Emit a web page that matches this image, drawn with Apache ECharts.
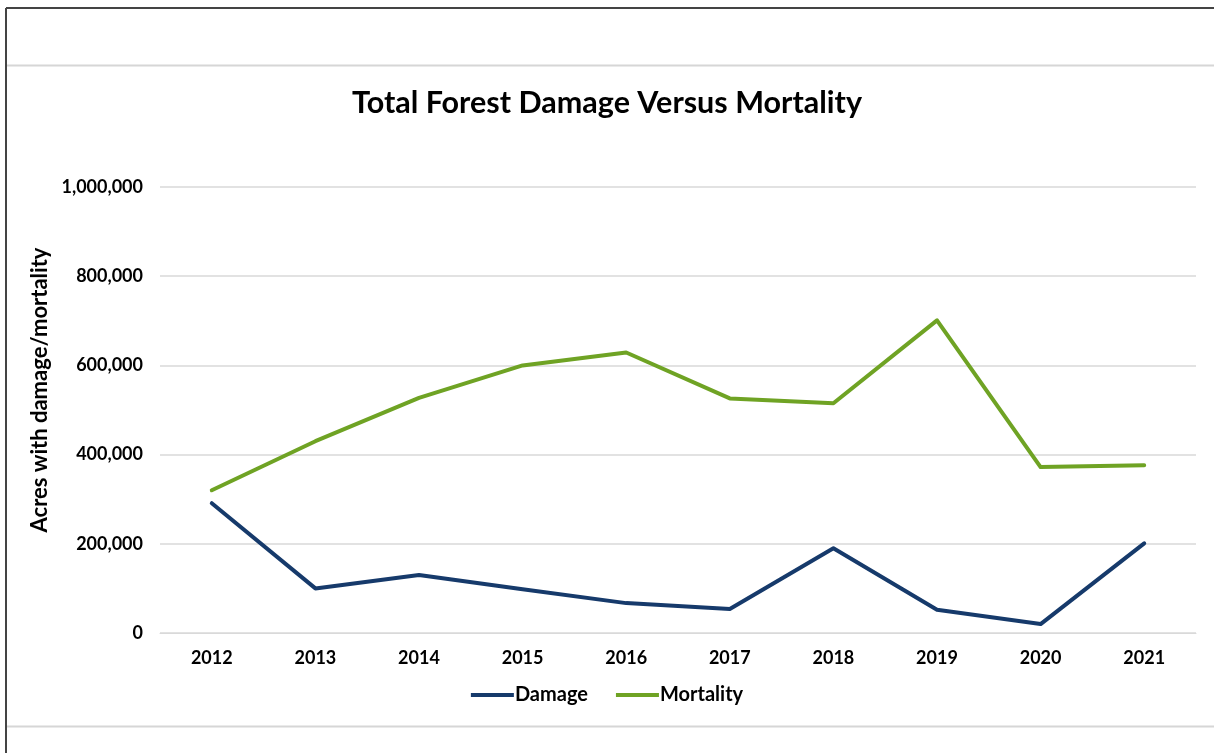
<!DOCTYPE html>
<html>
<head>
<meta charset="utf-8">
<title>Total Forest Damage Versus Mortality</title>
<script src="https://cdn.jsdelivr.net/npm/echarts@6/dist/echarts.min.js"></script>
<style>
  html, body { margin: 0; padding: 0; background: #fff; }
  #chart { width: 1214px; height: 753px; }
</style>
</head>
<body>
<div id="chart"></div>
<script>
// values
const years = ['2012', '2013', '2014', '2015', '2016', '2017', '2018', '2019', '2020', '2021'];
const damage = [291000, 100000, 130000, 98000, 67000, 54000, 190000, 52000, 20000, 201000];
const mortality = [320000, 430000, 527000, 600000, 629000, 526000, 515000, 701000, 372000, 376000];
const yTicks = [0, 200000, 400000, 600000, 800000, 1000000];

const FONT = 'Lato, "Noto Sans", sans-serif';

const chart = echarts.init(document.getElementById('chart'));

chart.setOption({
  backgroundColor: '#fff',
  animation: false,
  // frame round the chart area, like the pasted office chart
  graphic: [
    { type: 'line', shape: { x1: 6, y1: 8, x2: 1214, y2: 8 }, style: { stroke: '#444', lineWidth: 2 } },
    { type: 'line', shape: { x1: 6, y1: 8, x2: 6, y2: 753 }, style: { stroke: '#444', lineWidth: 2 } },
    { type: 'line', shape: { x1: 7, y1: 65.5, x2: 1214, y2: 65.5 }, style: { stroke: '#d6d6d6', lineWidth: 2 } },
    { type: 'line', shape: { x1: 7, y1: 726.5, x2: 1214, y2: 726.5 }, style: { stroke: '#d6d6d6', lineWidth: 2 } }
  ],
  title: {
    text: 'Total Forest Damage Versus Mortality',
    left: 'center',
    top: 83,
    textStyle: { fontFamily: FONT, fontSize: 30.5, fontWeight: 'bold', color: '#000' }
  },
  legend: {
    data: ['Damage', 'Mortality'],
    bottom: 43,
    left: 'center',
    itemWidth: 43,
    itemHeight: 4,
    itemGap: 28,
    icon: 'rect',
    textStyle: { fontFamily: FONT, fontSize: 20, fontWeight: 'bold', color: '#000', padding: [0, 0, 0, -4] }
  },
  grid: { left: 160, right: 18, top: 187, bottom: 120 },
  xAxis: {
    type: 'category',
    data: years,
    boundaryGap: true,
    axisLine: { lineStyle: { color: '#d9d9d9', width: 1 } },
    axisTick: { show: false },
    axisLabel: { fontFamily: FONT, fontSize: 18, fontWeight: 'bold', color: '#000', margin: 16 }
  },
  yAxis: {
    type: 'value',
    min: 0,
    max: 1000000,
    interval: 200000,
    name: 'Acres with damage/mortality',
    nameLocation: 'middle',
    nameGap: 106,
    nameTextStyle: { fontFamily: FONT, fontSize: 22, fontWeight: 'bold', color: '#000', padding: [0, 0, 0, 40] },
    axisLine: { show: false },
    axisTick: { show: false },
    splitLine: { lineStyle: { color: '#d9d9d9', width: 1.5 } },
    axisLabel: {
      fontFamily: FONT, fontSize: 18, fontWeight: 'bold', color: '#000', margin: 17,
      formatter: v => yTicks.includes(v) ? v.toLocaleString('en-US') : ''
    }
  },
  series: [
    {
      name: 'Damage',
      type: 'line',
      data: damage,
      symbol: 'none',
      itemStyle: { color: '#163a6b' },
      lineStyle: { color: '#163a6b', width: 4, cap: 'round', join: 'round' }
    },
    {
      name: 'Mortality',
      type: 'line',
      data: mortality,
      symbol: 'none',
      itemStyle: { color: '#6fa324' },
      lineStyle: { color: '#6fa324', width: 4, cap: 'round', join: 'round' }
    }
  ]
});
</script>
</body>
</html>
